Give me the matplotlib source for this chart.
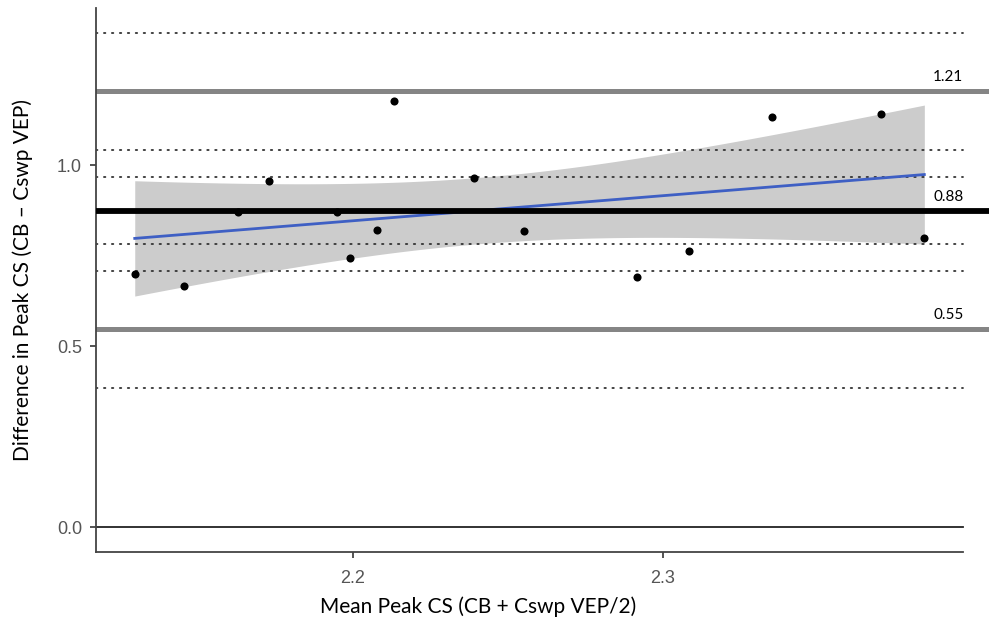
import numpy as np
import matplotlib
matplotlib.use("Agg")
import matplotlib.pyplot as plt

# ---- data ----
mean_cs = [2.1296, 2.1454, 2.1628, 2.1730, 2.1947, 2.1991, 2.2076, 2.2132,
           2.2390, 2.2551, 2.2916, 2.3084, 2.3350, 2.3703, 2.3843]
diff_cs = [0.699, 0.666, 0.870, 0.956, 0.870, 0.744, 0.820, 1.178,
           0.965, 0.818, 0.691, 0.763, 1.133, 1.142, 0.797]

bias = 0.874
upper_loa = 1.205
lower_loa = 0.547
loa_labels = ["1.21", "0.88", "0.55"]
ci_lines = [1.366, 1.041, 0.968, 0.781, 0.708, 0.383]

x_ticks = [2.2, 2.3]
x_ticklabels = ["2.2", "2.3"]
y_ticks = [0.0, 0.5, 1.0]
y_ticklabels = ["0.0", "0.5", "1.0"]

xlabel = "Mean Peak CS (CB + Cswp VEP/2)"
ylabel = "Difference in Peak CS (CB \u2013 Cswp VEP)"

# ---- figure ----
W, H = 989, 625
fig = plt.figure(figsize=(W / 100, H / 100), dpi=100)
ax = fig.add_axes([96 / W, (H - 552) / H, (989 - 96) / W, (552 - 8) / H])

xmin, xmax = 2.11710, 2.40516
ymin, ymax = -0.0690, 1.4337
x_end = 2.3969
ax.set_xlim(xmin, xmax)
ax.set_ylim(ymin, ymax)

# regression with 95% CI band
x = np.asarray(mean_cs)
y = np.asarray(diff_cs)
n = len(x)
b1, b0 = np.polyfit(x, y, 1)
resid = y - (b0 + b1 * x)
s = np.sqrt(np.sum(resid ** 2) / (n - 2))
xs = np.linspace(x.min(), x.max(), 100)
ys = b0 + b1 * xs
se = s * np.sqrt(1 / n + (xs - x.mean()) ** 2 / np.sum((x - x.mean()) ** 2))
t = 2.160
ax.fill_between(xs, ys - t * se, ys + t * se, color="#cccccc", lw=0, zorder=1)
ax.plot(xs, ys, color="#3e5fc4", lw=2.0, zorder=3)

# dotted CI lines
for v in ci_lines:
    ax.plot([xmin, x_end], [v, v], color="#333333", lw=1.3,
            linestyle=(0, (0.8, 3.6)), dash_capstyle="round", zorder=2)

# zero line
ax.plot([xmin, x_end], [0, 0], color="#222222", lw=1.3, zorder=2)

# limits of agreement & bias
ax.axhline(upper_loa, color="#858585", lw=3.6, zorder=2)
ax.axhline(lower_loa, color="#858585", lw=3.6, zorder=2)
ax.axhline(bias, color="black", lw=4.2, zorder=4)

# points
ax.scatter(x, y, s=34, color="black", zorder=5, linewidths=0)

# labels for lines
for v, lab in zip([upper_loa, bias, lower_loa], loa_labels):
    ax.text(x_end, v + 0.038, lab, ha="right", va="center",
            fontsize=11, family="Lato", color="black")

# spines
for sp in ["top", "right"]:
    ax.spines[sp].set_visible(False)
ax.spines["left"].set_color("#444444")
ax.spines["bottom"].set_color("#444444")
ax.spines["left"].set_linewidth(1.3)
ax.spines["bottom"].set_linewidth(1.3)
ax.spines["bottom"].set_bounds(xmin, x_end)

ax.set_xticks(x_ticks)
ax.set_xticklabels(x_ticklabels)
ax.set_yticks(y_ticks)
ax.set_yticklabels(y_ticklabels)
ax.tick_params(axis="both", direction="out", length=4, width=1.3,
               color="#444444", labelcolor="#555555", labelsize=13)
for lab in ax.get_xticklabels() + ax.get_yticklabels():
    lab.set_family("Liberation Sans")
ax.tick_params(axis="x", pad=9)
ax.tick_params(axis="y", pad=6)

fig.text(478 / W, 1 - 607 / H, xlabel, ha="center", va="center",
         fontsize=15, family="Lato")
fig.text(23 / W, 1 - 280 / H, ylabel, ha="center", va="center",
         rotation=90, fontsize=15, family="Lato")

fig.savefig("out.png", dpi=100)
